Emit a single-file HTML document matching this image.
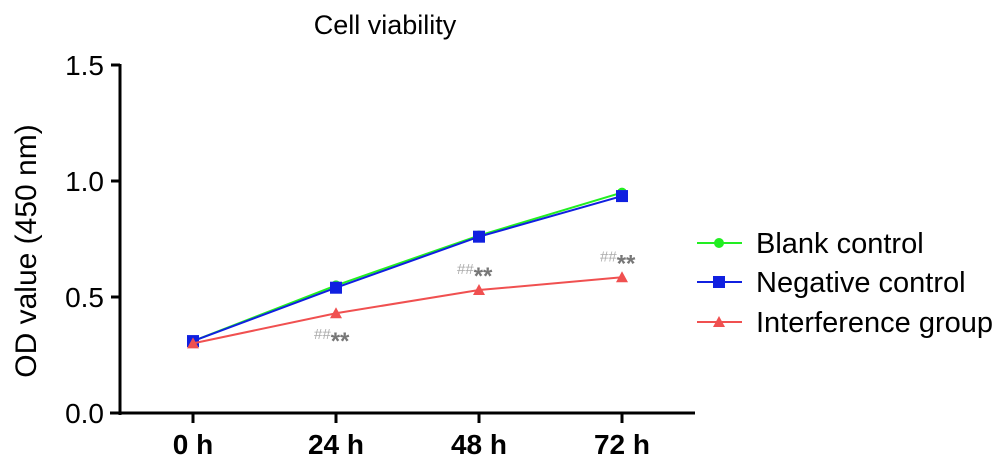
<!DOCTYPE html>
<html><head><meta charset="utf-8"><style>
body{margin:0;background:#fff;font-family:"Liberation Sans",Arial,sans-serif}
svg text{font-family:"Liberation Sans",Arial,sans-serif}
</style></head><body>
<svg id="chart" width="1007" height="469">
<text x="385" y="34" font-size="27" text-anchor="middle">Cell viability</text>
<text transform="translate(36,251) rotate(-90)" font-size="30" text-anchor="middle">OD value (450 nm)</text>
<g id="axes"></g><g id="series"></g><g id="legend"></g>
</svg>
<script>
const categories=["0 h","24 h","48 h","72 h"];
const blankValues=[0.31,0.55,0.765,0.95];
const negativeValues=[0.31,0.54,0.76,0.935];
const interferenceValues=[0.30,0.43,0.53,0.585];
const yTicks=[0,0.5,1.0,1.5];
const yTickLabels=["0.0","0.5","1.0","1.5"];
const sigLabels=[null,"below","above","above"];
const NS="http://www.w3.org/2000/svg";
function X(i){return 193+i*143;}
function Y(v){return 413-v*232;}
function mk(t,a,p){const e=document.createElementNS(NS,t);for(const k in a)e.setAttribute(k,a[k]);p.appendChild(e);return e;}
const ax=document.getElementById('axes');
let yl=mk('line',{x1:120,y1:Y(1.5)-1,x2:120,y2:415,stroke:'#000','stroke-width':3},ax);


let xl=mk('line',{x1:110,y1:413,x2:695,y2:413,stroke:'#000','stroke-width':3},ax);


yTicks.forEach((v,i)=>{
 mk('line',{x1:111,y1:Y(v),x2:120,y2:Y(v),stroke:'#000','stroke-width':3},ax);
 const t=mk('text',{x:104,y:Y(v)+10,'font-size':28,'text-anchor':'end'},ax);t.textContent=yTickLabels[i];
 
 
});
categories.forEach((c,i)=>{
 mk('line',{x1:X(i),y1:413,x2:X(i),y2:423,stroke:'#000','stroke-width':3},ax);
 const t=mk('text',{x:X(i),y:454,'font-size':28,'font-weight':'bold','text-anchor':'middle'},ax);t.textContent=c;
 
 
});
const sg=document.getElementById('series');
function series(vals,color,shape,name){
 const g=mk('g',{},sg);
 
 
 mk('polyline',{points:vals.map((v,i)=>X(i)+','+Y(v)).join(' '),fill:'none',stroke:color,'stroke-width':2},g);
 vals.forEach((v,i)=>marker(g,X(i),Y(v),color,shape));
}
function marker(g,x,y,color,shape){
 let m;
 if(shape==='circle')m=mk('circle',{cx:x,cy:y,r:5,fill:color},g);
 else if(shape==='square')m=mk('rect',{x:x-6,y:y-6,width:12,height:12,fill:color},g);
 else m=mk('polygon',{points:`${x},${y-6} ${x-6},${y+5} ${x+6},${y+5}`,fill:color},g);
 
 
}
series(blankValues,'#22ee22','circle','series-blank-control');
series(negativeValues,'#1020e0','square','series-negative-control');
series(interferenceValues,'#f05050','triangle','series-interference-group');
sigLabels.forEach((p,i)=>{
 if(!p)return;
 const y=p==='below'?Y(interferenceValues[i])+26:Y(interferenceValues[i])-16;
 const t=mk('text',{x:X(i)-22,y:y,'font-size':15,fill:'#aaa'},sg);
 t.innerHTML='##<tspan font-size="24" font-weight="bold" dy="10" fill="#777">**</tspan>';
 
 
});
const lg=document.getElementById('legend');
[["Blank control",'#22ee22','circle',243],["Negative control",'#1020e0','square',282],["Interference group",'#f05050','triangle',322]].forEach(d=>{
 const g=mk('g',{},lg);
 
 
 mk('line',{x1:697,y1:d[3],x2:742,y2:d[3],stroke:d[1],'stroke-width':2},g);
 marker(g,719,d[3],d[1],d[2]);
 const t=mk('text',{x:756,y:d[3]+10,'font-size':29},g);t.textContent=d[0];
});
</script>
</body></html>
